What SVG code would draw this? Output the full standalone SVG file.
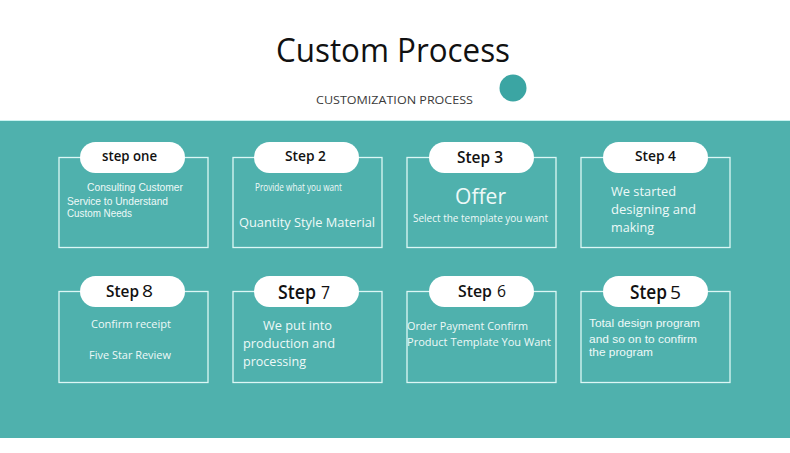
<svg xmlns="http://www.w3.org/2000/svg" width="790" height="453" viewBox="0 0 790 453">
<style>
.box{fill:none;stroke:#dcf7f5;stroke-width:1.3}
.pill{fill:#ffffff}
.lbl{font-family:"Open Sans","Liberation Sans",sans-serif;font-weight:600;fill:#111111}
.num{font-family:"Open Sans","Liberation Sans",sans-serif;font-weight:400;fill:#111111}
.body{font-family:"Open Sans","Liberation Sans",sans-serif;fill:#eef9f8}
.tight{font-family:"Liberation Sans","Open Sans",sans-serif;fill:#eef9f8}
</style>
<rect x="0" y="0" width="790" height="453" fill="#ffffff"/>
<g id="header">
<text x="276" y="62" font-family="'Open Sans','Liberation Sans',sans-serif" font-size="32" fill="#111111" textLength="234" lengthAdjust="spacingAndGlyphs">Custom Process</text>
<text x="316" y="104" font-family="'Open Sans','Liberation Sans',sans-serif" font-size="10.5" fill="#3a3a3a" textLength="157" lengthAdjust="spacingAndGlyphs">CUSTOMIZATION PROCESS</text>
<circle cx="513" cy="88" r="13.5" fill="#3ba5a3"/>
</g>
<rect id="panel" x="0" y="120" width="790" height="318" fill="#4fb1ad"/>
<line x1="0" y1="120.5" x2="790" y2="120.5" stroke="#c9f3f0" stroke-width="1"/>

<g id="step1">
<rect class="box" x="59" y="157.5" width="149" height="90"/>
<rect class="pill" x="80" y="142" width="105" height="31" rx="15.5"/>
<text class="lbl" x="102" y="161" font-size="14.5" textLength="55" lengthAdjust="spacingAndGlyphs">step one</text>
<text class="tight" x="87" y="191" font-size="10" textLength="96" lengthAdjust="spacingAndGlyphs">Consulting Customer</text>
<text class="tight" x="67" y="205" font-size="10" textLength="101" lengthAdjust="spacingAndGlyphs">Service to Understand</text>
<text class="tight" x="67" y="217" font-size="10" textLength="65" lengthAdjust="spacingAndGlyphs">Custom Needs</text>
</g>

<g id="step2">
<rect class="box" x="233" y="157.5" width="149" height="90"/>
<rect class="pill" x="254" y="142" width="105" height="31" rx="15.5"/>
<text class="lbl" x="285" y="161" font-size="15" textLength="41" lengthAdjust="spacingAndGlyphs">Step 2</text>
<text class="body" x="255" y="191" font-size="10" textLength="87" lengthAdjust="spacingAndGlyphs">Provide what you want</text>
<text class="body" x="239" y="227" font-size="13" textLength="136" lengthAdjust="spacingAndGlyphs">Quantity Style Material</text>
</g>

<g id="step3">
<rect class="box" x="407" y="157.5" width="149" height="90"/>
<rect class="pill" x="429" y="142" width="105" height="31" rx="15.5"/>
<text class="lbl" x="457" y="162.5" font-size="17" textLength="46" lengthAdjust="spacingAndGlyphs">Step 3</text>
<text class="body" x="455" y="204" font-size="22" textLength="51" lengthAdjust="spacingAndGlyphs">Offer</text>
<text class="body" x="413" y="222" font-size="10.5" textLength="135" lengthAdjust="spacingAndGlyphs">Select the template you want</text>
</g>

<g id="step4">
<rect class="box" x="581" y="157.5" width="149" height="90"/>
<rect class="pill" x="603" y="142" width="105" height="31" rx="15.5"/>
<text class="lbl" x="635" y="161" font-size="14.5" textLength="41" lengthAdjust="spacingAndGlyphs">Step 4</text>
<text class="body" x="611" y="196" font-size="13" textLength="65" lengthAdjust="spacingAndGlyphs">We started</text>
<text class="body" x="611" y="214" font-size="13" textLength="85" lengthAdjust="spacingAndGlyphs">designing and</text>
<text class="body" x="611" y="232" font-size="13" textLength="43" lengthAdjust="spacingAndGlyphs">making</text>
</g>

<g id="step8">
<rect class="box" x="59" y="291.5" width="149" height="91"/>
<rect class="pill" x="80" y="276" width="105" height="31" rx="15.5"/>
<text class="lbl" x="106" y="297" font-size="17" textLength="33" lengthAdjust="spacingAndGlyphs">Step</text>
<text class="num" x="142" y="297" font-size="17" textLength="11" lengthAdjust="spacingAndGlyphs">8</text>
<text class="body" x="91" y="328" font-size="10.5" textLength="80" lengthAdjust="spacingAndGlyphs">Confirm receipt</text>
<text class="body" x="89" y="359" font-size="10.5" textLength="82" lengthAdjust="spacingAndGlyphs">Five Star Review</text>
</g>

<g id="step7">
<rect class="box" x="233" y="291.5" width="149" height="91"/>
<rect class="pill" x="254" y="276" width="105" height="31" rx="15.5"/>
<text class="lbl" x="278" y="298.5" font-size="19" textLength="38" lengthAdjust="spacingAndGlyphs">Step</text>
<text class="num" x="321" y="298.5" font-size="19" textLength="9" lengthAdjust="spacingAndGlyphs">7</text>
<text class="body" x="263" y="330" font-size="13" textLength="69" lengthAdjust="spacingAndGlyphs">We put into</text>
<text class="body" x="243" y="348" font-size="13" textLength="92" lengthAdjust="spacingAndGlyphs">production and</text>
<text class="body" x="243" y="366" font-size="13" textLength="63" lengthAdjust="spacingAndGlyphs">processing</text>
</g>

<g id="step6">
<rect class="box" x="407" y="291.5" width="149" height="91"/>
<rect class="pill" x="429" y="276" width="105" height="31" rx="15.5"/>
<text class="lbl" x="458" y="297" font-size="17" textLength="34" lengthAdjust="spacingAndGlyphs">Step</text>
<text class="num" x="497" y="297" font-size="17" textLength="9" lengthAdjust="spacingAndGlyphs">6</text>
<text class="body" x="407" y="330" font-size="11" textLength="121" lengthAdjust="spacingAndGlyphs">Order Payment Confirm</text>
<text class="body" x="407" y="346" font-size="11" textLength="144" lengthAdjust="spacingAndGlyphs">Product Template You Want</text>
</g>

<g id="step5">
<rect class="box" x="581" y="291.5" width="149" height="91"/>
<rect class="pill" x="603" y="276" width="105" height="31" rx="15.5"/>
<text class="lbl" x="630" y="298.5" font-size="19" textLength="37" lengthAdjust="spacingAndGlyphs">Step</text>
<text class="num" x="670" y="298.5" font-size="19" textLength="11" lengthAdjust="spacingAndGlyphs">5</text>
<text class="tight" x="589" y="327" font-size="11" textLength="111" lengthAdjust="spacingAndGlyphs">Total design program</text>
<text class="tight" x="589" y="343" font-size="11" textLength="108" lengthAdjust="spacingAndGlyphs">and so on to confirm</text>
<text class="tight" x="589" y="356" font-size="11" textLength="64" lengthAdjust="spacingAndGlyphs">the program</text>
</g>
</svg>
